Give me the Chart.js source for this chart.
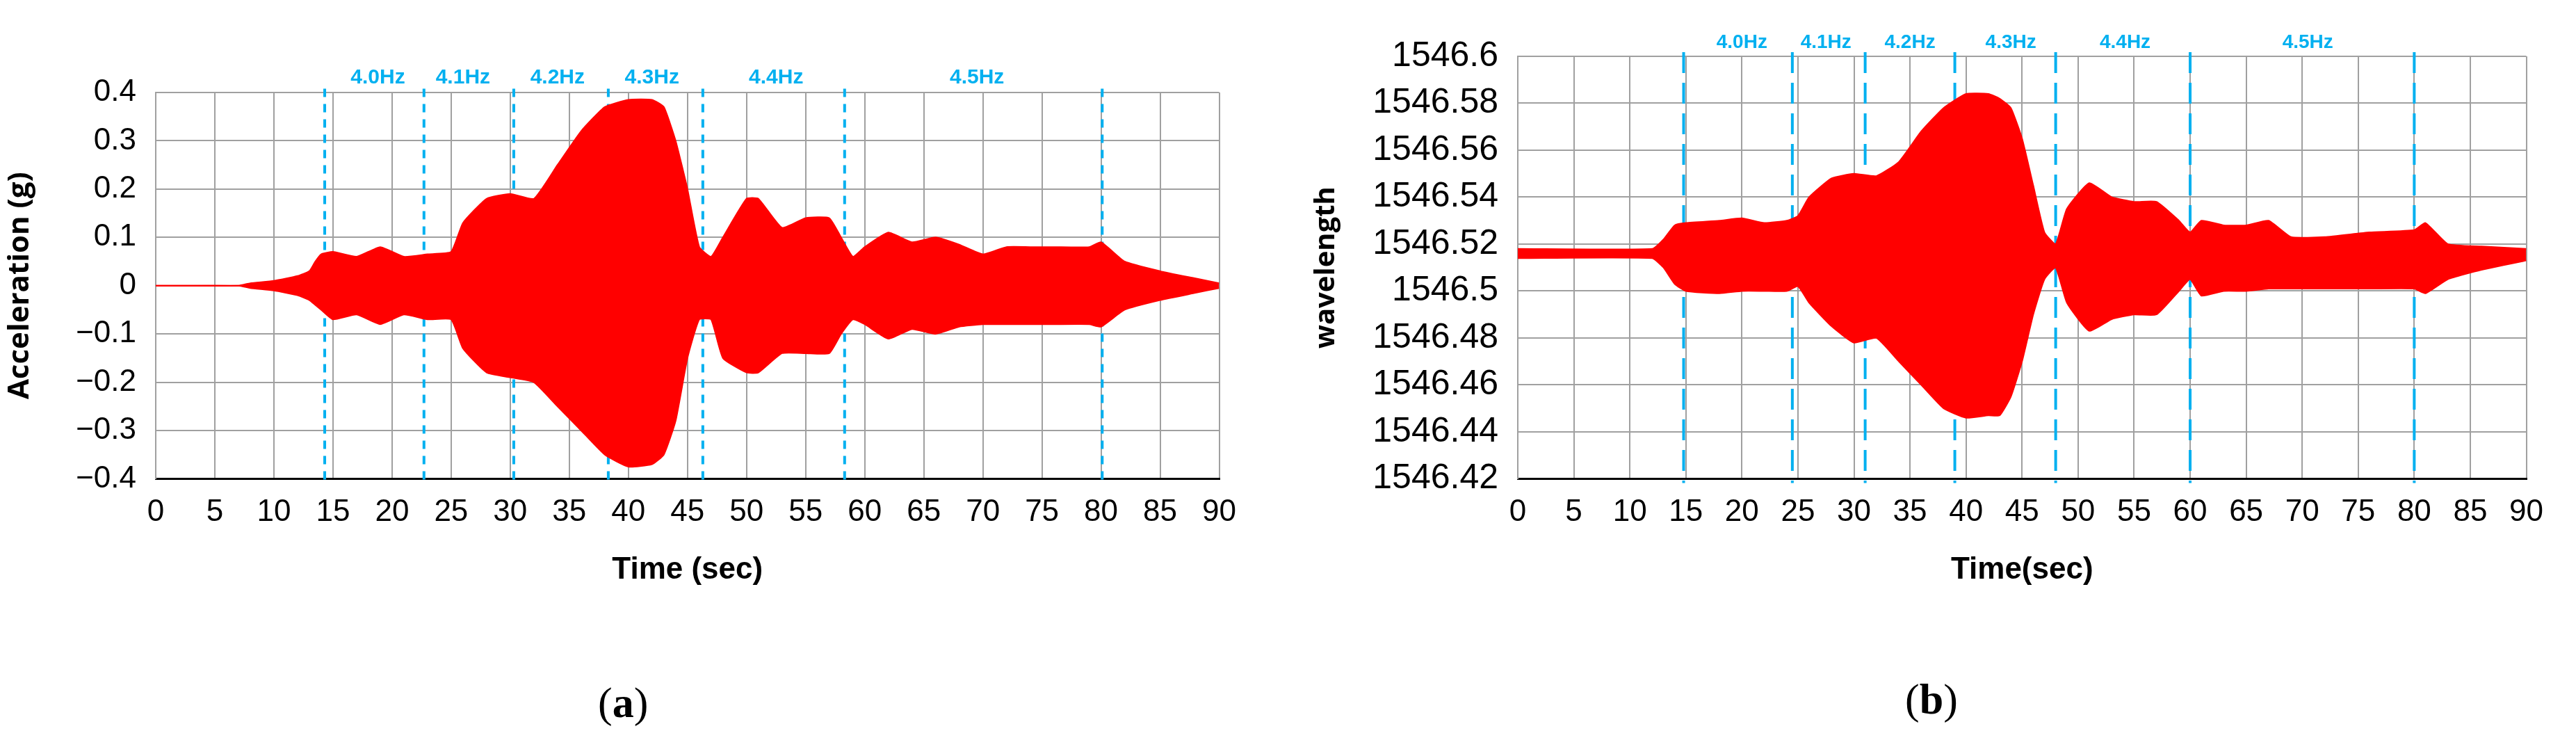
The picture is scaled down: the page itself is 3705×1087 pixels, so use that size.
<!DOCTYPE html>
<html><head><meta charset="utf-8">
<script src="https://cdn.jsdelivr.net/npm/chart.js@4.4.0/dist/chart.umd.min.js"></script>
<style>
body{margin:0;background:#fff;width:3705px;height:1087px;overflow:hidden;position:relative}
.box{position:absolute}
.cap{position:absolute;font-family:"Liberation Serif",serif;font-size:62px;color:#000}
</style></head><body>
<div class="box" id="b1" style="left:0;top:0;width:1800px;height:850px"><canvas id="c1"></canvas></div>
<div class="box" id="b2" style="left:1880px;top:0;width:1800px;height:850px"><canvas id="c2"></canvas></div>
<div class="cap" style="left:860px;top:975px">(<b>a</b>)</div>
<div class="cap" style="left:2740px;top:970px">(<b>b</b>)</div>
<script>
const xTicks=[0,5,10,15,20,25,30,35,40,45,50,55,60,65,70,75,80,85,90];
const freqLabels=["4.0Hz","4.1Hz","4.2Hz","4.3Hz","4.4Hz","4.5Hz"];
// chart (a)
const aT=[0,7,8,10,12,13,13.5,14,15,17,19,21,23,25,26,28,30,32,34,36,38,40,42,43,44,45,46,47,48,50,51,53,55,57,58,59,60,62,64,66,68,70,72,74,76,79,80,82,85,88,90];
const aUp=[0,0,0.005,0.01,0.02,0.03,0.05,0.065,0.07,0.06,0.08,0.06,0.065,0.07,0.13,0.18,0.19,0.18,0.25,0.32,0.37,0.385,0.385,0.37,0.3,0.2,0.08,0.06,0.1,0.18,0.18,0.12,0.14,0.14,0.1,0.06,0.08,0.11,0.09,0.1,0.085,0.065,0.08,0.08,0.08,0.08,0.09,0.05,0.03,0.015,0.005];
const aLo=[0,0,-0.005,-0.01,-0.02,-0.03,-0.04,-0.05,-0.07,-0.06,-0.08,-0.06,-0.07,-0.07,-0.13,-0.18,-0.19,-0.2,-0.25,-0.3,-0.35,-0.375,-0.37,-0.35,-0.28,-0.15,-0.07,-0.07,-0.15,-0.18,-0.18,-0.14,-0.14,-0.14,-0.1,-0.07,-0.08,-0.11,-0.09,-0.1,-0.085,-0.08,-0.08,-0.08,-0.08,-0.08,-0.085,-0.05,-0.03,-0.015,-0.005];
const aLines=[14.3,22.7,30.3,38.3,46.3,58.3,80.1];
const aLabelX=[18.8,26,34,42,52.5,69.5];
// chart (b)
const bT=[0,12,13,14,15,18,20,22,24,25,26,28,30,32,34,36,38,40,42,43,44,45,46,47,48,49,51,53,55,57,59,60,61,63,65,67,69,72,76,80,81,83,86,90];
const bUp=[1546.518,1546.518,1546.522,1546.528,1546.529,1546.53,1546.531,1546.529,1546.53,1546.532,1546.54,1546.548,1546.55,1546.549,1546.555,1546.568,1546.578,1546.584,1546.584,1546.582,1546.578,1546.565,1546.545,1546.525,1546.52,1546.535,1546.546,1546.54,1546.538,1546.538,1546.53,1546.525,1546.53,1546.528,1546.528,1546.53,1546.523,1546.523,1546.525,1546.526,1546.529,1546.52,1546.519,1546.518];
const bLo=[1546.514,1546.514,1546.51,1546.503,1546.5,1546.499,1546.5,1546.5,1546.5,1546.502,1546.495,1546.485,1546.478,1546.48,1546.47,1546.46,1546.45,1546.446,1546.447,1546.447,1546.455,1546.47,1546.49,1546.505,1546.51,1546.495,1546.483,1546.488,1546.49,1546.49,1546.5,1546.505,1546.498,1546.5,1546.5,1546.501,1546.501,1546.501,1546.501,1546.501,1546.499,1546.505,1546.509,1546.513];
const bLines=[14.8,24.5,31,39,48,60,80];
const bLabelX=[20,27.5,35,44,54.2,70.5];

const FONT='"Liberation Sans Narrow","Liberation Sans",sans-serif';
function pts(t,v){return t.map((x,i)=>({x:x,y:v[i]}));}
function mk(id,t,up,lo,lines,labX,ymin,ymax,step,ytitle,xtitle,yW,top,fmt,dash,lblFs,ytFs){
  const ds=[
    {data:pts(t,up),borderColor:'#ff0000',backgroundColor:'#ff0000',borderWidth:2,pointRadius:0,fill:false,tension:0.15},
    {data:pts(t,lo),borderColor:'#ff0000',backgroundColor:'#ff0000',borderWidth:2,pointRadius:0,fill:'-1',tension:0.15}
  ];
  lines.forEach(x=>ds.push({data:[{x:x,y:ymax+(ymax-ymin)*0.01},{x:x,y:ymin-(ymax-ymin)*0.01}],borderColor:'#00b0f0',borderWidth:4,borderDash:dash,pointRadius:0,fill:false,clip:false}));
  const labPlugin={id:'lab'+id,afterDraw(c){const x=c.scales.x,ctx=c.ctx;ctx.save();ctx.fillStyle='#00b0f0';ctx.font='bold '+lblFs+'px '+FONT;ctx.textAlign='center';ctx.textBaseline='bottom';
    freqLabels.forEach((s,i)=>ctx.fillText(s,x.getPixelForValue(labX[i]),c.chartArea.top-6));ctx.restore();}};
  new Chart(document.getElementById(id),{type:'line',data:{datasets:ds},plugins:[labPlugin],
    options:{responsive:true,maintainAspectRatio:false,animation:false,
      layout:{padding:{top:top,right:30,left:0,bottom:0}},
      plugins:{legend:{display:false},tooltip:{enabled:false}},
      scales:{
        x:{type:'linear',min:0,max:90,afterBuildTicks(s){s.ticks=xTicks.map(v=>({value:v}));},
          grid:{color:'#a0a0a0',lineWidth:2,drawTicks:false},border:{color:'#000',width:3},
          ticks:{color:'#000',font:{family:FONT,size:44},padding:22,maxRotation:0},
          title:{display:true,text:xtitle,color:'#000',font:{family:FONT,size:44,weight:'bold'},padding:{top:8}}},
        y:{min:ymin,max:ymax,ticks:{stepSize:step,color:'#000',font:{family:FONT,size:lblFs===28?50:44},padding:28,callback:fmt},
          grid:{color:'#a0a0a0',lineWidth:2,drawTicks:false},border:{color:'#a0a0a0',width:2},
          title:{display:true,text:ytitle,color:'#000',font:{family:'"Open Sans",sans-serif',size:ytFs,weight:'bold'},padding:{bottom:10}},
          afterFit(s){s.width=yW;}}
      }}});
}
mk('c1',aT,aUp,aLo,aLines,aLabelX,-0.4,0.4,0.1,'Acceleration (g)','Time (sec)',224,133,
  v=>{const r=Math.round(v*10)/10;return r<0?'\u2212'+Math.abs(r):String(r);},[12,10],30,42);
mk('c2',bT,bUp,bLo,bLines,bLabelX,1546.42,1546.6,0.02,'wavelength','Time(sec)',303,81,
  v=>String(parseFloat(v.toFixed(2))),[30,14],28,40);
</script></body></html>
